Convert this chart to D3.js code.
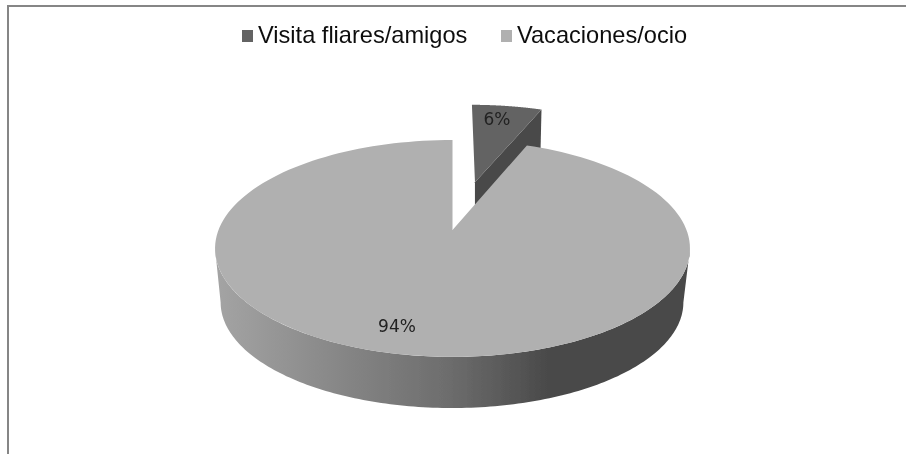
<!DOCTYPE html>
<html><head><meta charset="utf-8">
<script src="https://cdn.jsdelivr.net/npm/d3@7"></script>
<style>html,body{margin:0;padding:0;background:#fff}svg{display:block}</style>
</head><body><svg id="c" width="906" height="454"></svg>
<script>
const categories = ["Visita fliares/amigos", "Vacaciones/ocio"];
const values = [6, 94];
const labels = ["6%", "94%"];
const topColors = ["#636363", "#b0b0b0"];
const sideColor = "#484848";

const svg = d3.select("#c");
const defs = svg.append("defs");
const grad = defs.append("linearGradient").attr("id","side").attr("gradientUnits","userSpaceOnUse")
  .attr("x1",220).attr("x2",683).attr("y1",0).attr("y2",0);
[[0,"#a3a3a3"],[.5,"#6c6c6c"],[.72,"#484848"],[1,"#484848"]].forEach(s=>grad.append("stop").attr("offset",s[0]).attr("stop-color",s[1]));
defs.append("filter").attr("id","soft").attr("x","-5%").attr("y","-5%").attr("width","110%").attr("height","110%")
  .append("feGaussianBlur").attr("stdDeviation",0.4);
const root = svg.append("g").attr("filter","url(#soft)");

// perspective projection of the pie disc (top plane / bottom plane)
const k = 0.17;
const planes = {
  top:{cx:452.5,cy:230,rx:234,ry:105.3},
  bottom:{cx:452,cy:284.5,rx:228,ry:102.5}
};
function proj(pl,t,r,dx=0,dy=0){
  const X=r*Math.sin(t)+dx, Y=r*Math.cos(t)+dy, s=1/(1+k*Y);
  return [pl.cx+pl.rx*X*s, pl.cy-pl.ry*Y*s];
}
const arcs = d3.pie().sort(null)(values);
const line = d3.line();
const samples = (a,b,n=160)=>d3.range(n+1).map(i=>a+(b-a)*i/n);
const pts = (pl,a,b,dx,dy)=>samples(a,b).map(t=>proj(pl,t,1,dx,dy));

// exploded small slice
const ex = [0.104,0.49];
const small = arcs[0];
const smallTop = [proj(planes.top,0,0,...ex),...pts(planes.top,small.startAngle,small.endAngle,...ex)];
const p0 = smallTop[smallTop.length-1], a0 = smallTop[0];
const depth = 42;
root.append("path").attr("fill",sideColor)
  .attr("d",line([a0,p0,[p0[0]-1,p0[1]+depth],[a0[0],a0[1]+depth]])+"Z");
root.append("path").attr("fill",topColors[0]).attr("d",line(smallTop)+"Z");

// large slice: side wall between the silhouette tangents, then top
const main = arcs[1];
const tA = Math.acos(-k), tB = 2*Math.PI-tA;
root.append("path").attr("fill","url(#side)")
  .attr("d",line([...pts(planes.top,tA,tB),...pts(planes.bottom,tA,tB).reverse()])+"Z");
root.append("path").attr("fill",topColors[1])
  .attr("d",line([proj(planes.top,0,0),...pts(planes.top,main.startAngle,main.endAngle)])+"Z");

// frame
root.append("path").attr("fill","none").attr("stroke","#868686").attr("stroke-width",2)
  .attr("d","M8,460V6H912");

// data labels
const lab = [[497,125],[397,332]];
root.selectAll(".dl").data(labels).join("text").attr("class","dl")
  .attr("x",(d,i)=>lab[i][0]).attr("y",(d,i)=>lab[i][1]).attr("text-anchor","middle")
  .attr("font-family","'DejaVu Sans'").attr("font-size",17).attr("fill","#222").text(d=>d);

// legend
const legX = d3.scaleOrdinal().domain(categories).range([242,501]);
const lg = root.selectAll(".lg").data(categories).join("g").attr("class","lg")
  .attr("transform",d=>`translate(${legX(d)},30)`);
lg.append("rect").attr("width",11).attr("height",12).attr("fill",(d,i)=>topColors[i]);
lg.append("text").attr("x",16).attr("y",13).attr("font-family","'Liberation Sans'")
  .attr("font-size",23.6).attr("fill","#111").text(d=>d);
</script></body></html>
